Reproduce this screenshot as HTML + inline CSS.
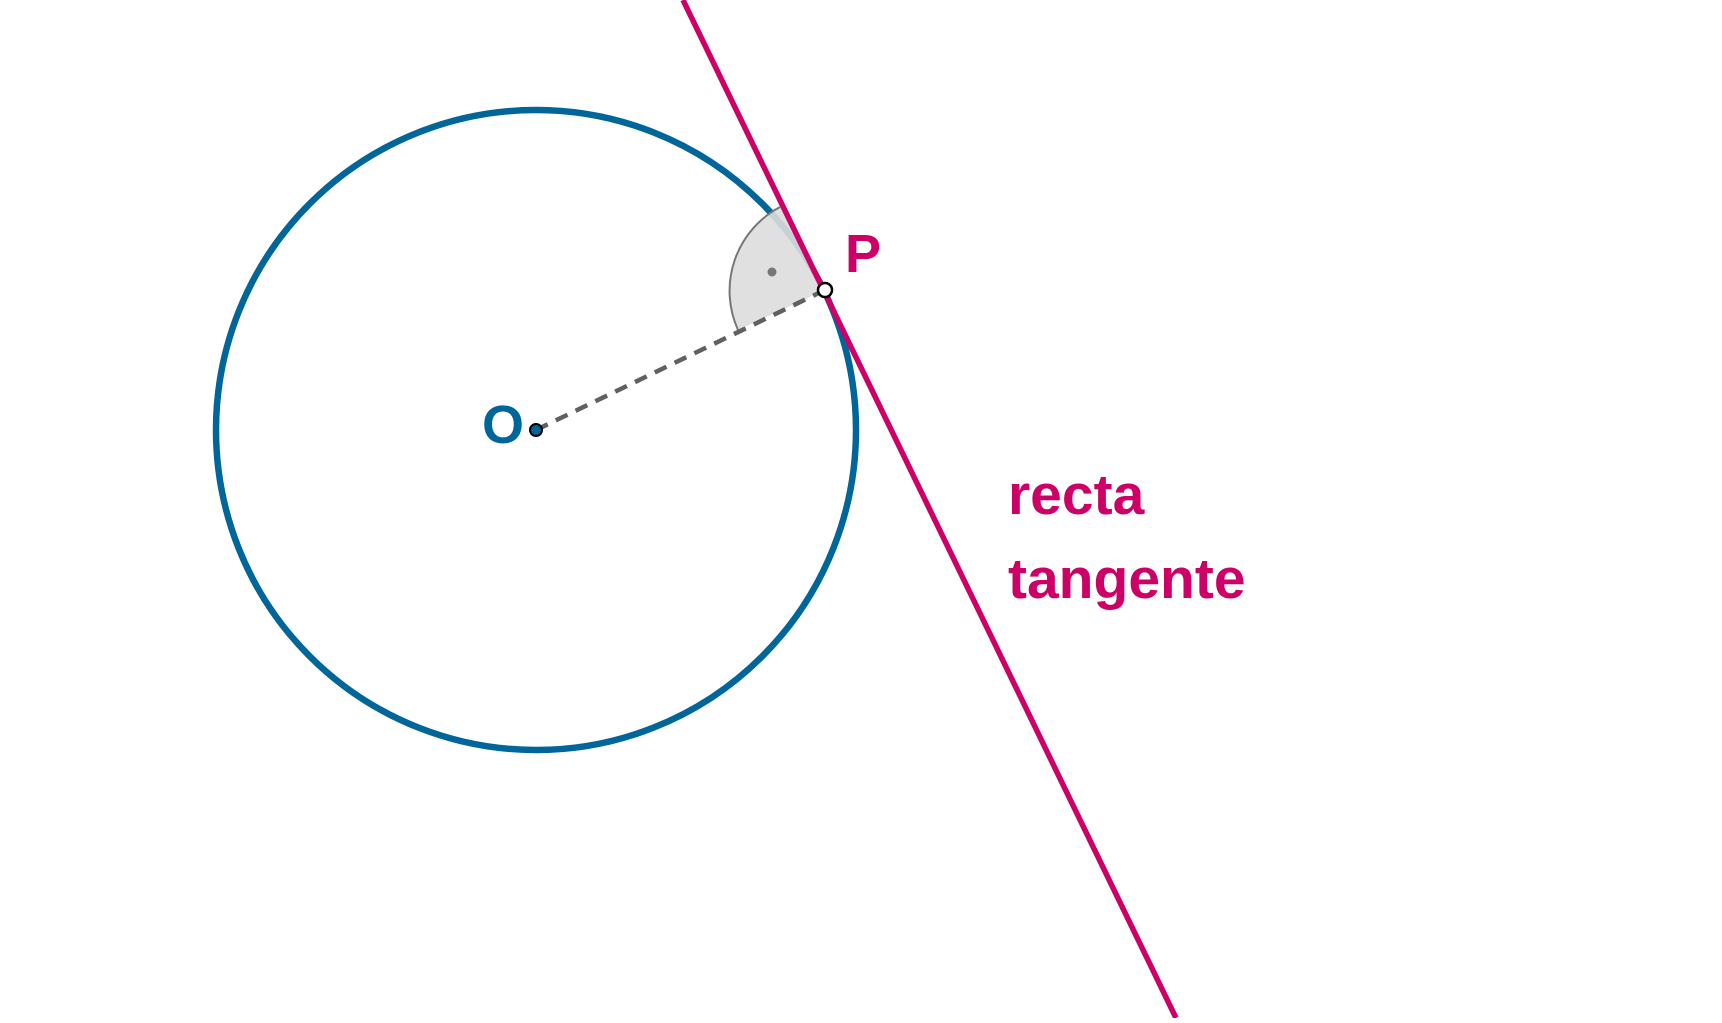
<!DOCTYPE html>
<html><head><style>html,body{margin:0;padding:0;background:#fff;overflow:hidden}</style></head>
<body>
<svg width="1722" height="1018" viewBox="0 0 1722 1018" xmlns="http://www.w3.org/2000/svg">
<rect width="1722" height="1018" fill="#fff"/>
<circle cx="536" cy="430" r="320" fill="none" stroke="#006699" stroke-width="6.5"/>
<path d="M825 290 L738 330 A95 95 0 0 1 780 207 Z" fill="#dddddd" fill-opacity="0.9" stroke="none"/>
<path d="M738 330 A95 95 0 0 1 780 207" fill="none" stroke="#777" stroke-width="2"/>
<line x1="536" y1="430" x2="825" y2="290" stroke="#606060" stroke-width="4.5" stroke-dasharray="13,9"/>
<line x1="683" y1="0" x2="1176" y2="1018" stroke="#cc0066" stroke-width="5.5"/>
<circle cx="772" cy="272" r="4.5" fill="#777"/>
<circle cx="536" cy="430" r="6" fill="#006699" stroke="#000" stroke-width="2"/>
<circle cx="825" cy="290" r="7" fill="#fff" stroke="#000" stroke-width="2.5"/>
<g font-family="Liberation Sans, sans-serif" font-weight="bold">
<text x="845" y="272" font-size="54" fill="#cc0066">P</text>
<text x="482" y="443" font-size="54" fill="#006699">O</text>
<text x="1008" y="514" font-size="57" fill="#cc0066">recta</text>
<text x="1008" y="598" font-size="57" fill="#cc0066">tangente</text>
</g>
</svg>
</body></html>
